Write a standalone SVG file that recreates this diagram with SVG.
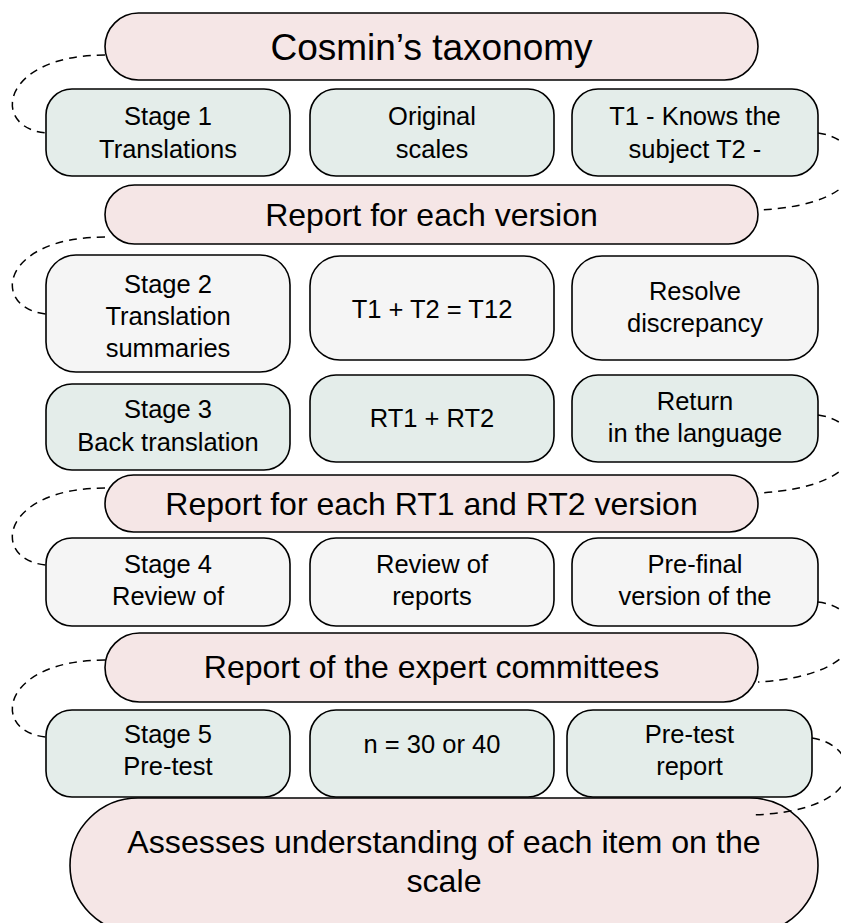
<svg xmlns="http://www.w3.org/2000/svg" width="841" height="923" viewBox="0 0 841 923">
<style>
.pink{fill:#F5E6E6;stroke:#000;stroke-width:1.6}
.green{fill:#E4EDEA;stroke:#000;stroke-width:1.6}
.grey{fill:#F5F5F5;stroke:#000;stroke-width:1.6}
text{font-family:"Liberation Sans",Arial,sans-serif;fill:#000;text-anchor:middle}
.s{font-size:25.5px}
.m{font-size:32px}
.l{font-size:37px}
.b{font-size:32.2px}
.dash{fill:none;stroke:#000;stroke-width:1.5;stroke-dasharray:8 6}
</style>
<rect width="841" height="923" fill="#fff"/>
<g id="cosmin">
<rect class="pink" x="105" y="13" width="653" height="67" rx="33.5"/>
<text class="l" x="431.5" y="60">Cosmin’s taxonomy</text>
</g>
<g id="stage1">
<rect class="green" x="46" y="89" width="244" height="87" rx="26"/>
<text class="s" x="168" y="125">Stage 1</text>
<text class="s" x="168" y="158">Translations</text>
</g>
<g id="original">
<rect class="green" x="310" y="89" width="244" height="87" rx="26"/>
<text class="s" x="432" y="125">Original</text>
<text class="s" x="432" y="158">scales</text>
</g>
<g id="t1knows">
<rect class="green" x="572" y="89" width="246" height="87" rx="26"/>
<text class="s" x="695" y="125">T1 - Knows the</text>
<text class="s" x="695" y="158">subject T2 -</text>
</g>
<g id="report1">
<rect class="pink" x="105" y="185" width="653" height="59" rx="29.5"/>
<text class="m" x="431.5" y="226">Report for each version</text>
</g>
<g id="stage2">
<rect class="grey" x="46" y="255" width="244" height="117" rx="30"/>
<text class="s" x="168" y="293">Stage 2</text>
<text class="s" x="168" y="325">Translation</text>
<text class="s" x="168" y="357">summaries</text>
</g>
<g id="t12">
<rect class="grey" x="310" y="256" width="244" height="104" rx="30"/>
<text class="s" x="432" y="318">T1 + T2 = T12</text>
</g>
<g id="resolve">
<rect class="grey" x="572" y="256" width="246" height="104" rx="30"/>
<text class="s" x="695" y="300">Resolve</text>
<text class="s" x="695" y="332">discrepancy</text>
</g>
<g id="stage3">
<rect class="green" x="46" y="384" width="244" height="86" rx="26"/>
<text class="s" x="168" y="418">Stage 3</text>
<text class="s" x="168" y="451">Back translation</text>
</g>
<g id="rt">
<rect class="green" x="310" y="375" width="244" height="87" rx="26"/>
<text class="s" x="432" y="427">RT1 + RT2</text>
</g>
<g id="return">
<rect class="green" x="572" y="375" width="246" height="87" rx="26"/>
<text class="s" x="695" y="410">Return</text>
<text class="s" x="695" y="442">in the language</text>
</g>
<g id="report2">
<rect class="pink" x="105" y="475" width="653" height="57" rx="28.5"/>
<text class="m" x="431.5" y="515">Report for each RT1 and RT2 version</text>
</g>
<g id="stage4">
<rect class="grey" x="46" y="538" width="244" height="88" rx="26"/>
<text class="s" x="168" y="573">Stage 4</text>
<text class="s" x="168" y="605">Review of</text>
</g>
<g id="reviewreports">
<rect class="grey" x="310" y="538" width="244" height="88" rx="26"/>
<text class="s" x="432" y="573">Review of</text>
<text class="s" x="432" y="605">reports</text>
</g>
<g id="prefinal">
<rect class="grey" x="572" y="538" width="246" height="88" rx="26"/>
<text class="s" x="695" y="573">Pre-final</text>
<text class="s" x="695" y="605">version of the</text>
</g>
<g id="report3">
<rect class="pink" x="105" y="633" width="653" height="69" rx="34.5"/>
<text class="m" x="431.5" y="678">Report of the expert committees</text>
</g>
<g id="stage5">
<rect class="green" x="46" y="710" width="244" height="87" rx="26"/>
<text class="s" x="168" y="743">Stage 5</text>
<text class="s" x="168" y="775">Pre-test</text>
</g>
<g id="n30">
<rect class="green" x="310" y="710" width="244" height="87" rx="26"/>
<text class="s" x="432" y="753">n = 30 or 40</text>
</g>
<g id="pretestreport">
<rect class="green" x="567" y="710" width="245" height="87" rx="26"/>
<text class="s" x="689.5" y="743">Pre-test</text>
<text class="s" x="689.5" y="775">report</text>
</g>
<g id="assesses">
<rect class="pink" x="70" y="798" width="748" height="135" rx="68"/>
<text class="b" x="444" y="853">Assesses understanding of each item on the</text>
<text class="b" x="444" y="892">scale</text>
</g>
<g id="connectors">
<path class="dash" d="M105 55 C0 55,-10 128,46 133"/>
<path class="dash" d="M818 133 C870 140,880 205,758 210"/>
<path class="dash" d="M105 237 C0 237,-10 308,46 314"/>
<path class="dash" d="M818 415 C870 422,880 487,758 493"/>
<path class="dash" d="M105 488 C0 488,-10 560,46 565"/>
<path class="dash" d="M818 602 C870 608,880 675,758 682"/>
<path class="dash" d="M105 660 C0 660,-10 732,46 737"/>
<path class="dash" d="M812 738 C860 745,875 810,753 815"/>
</g>
</svg>
